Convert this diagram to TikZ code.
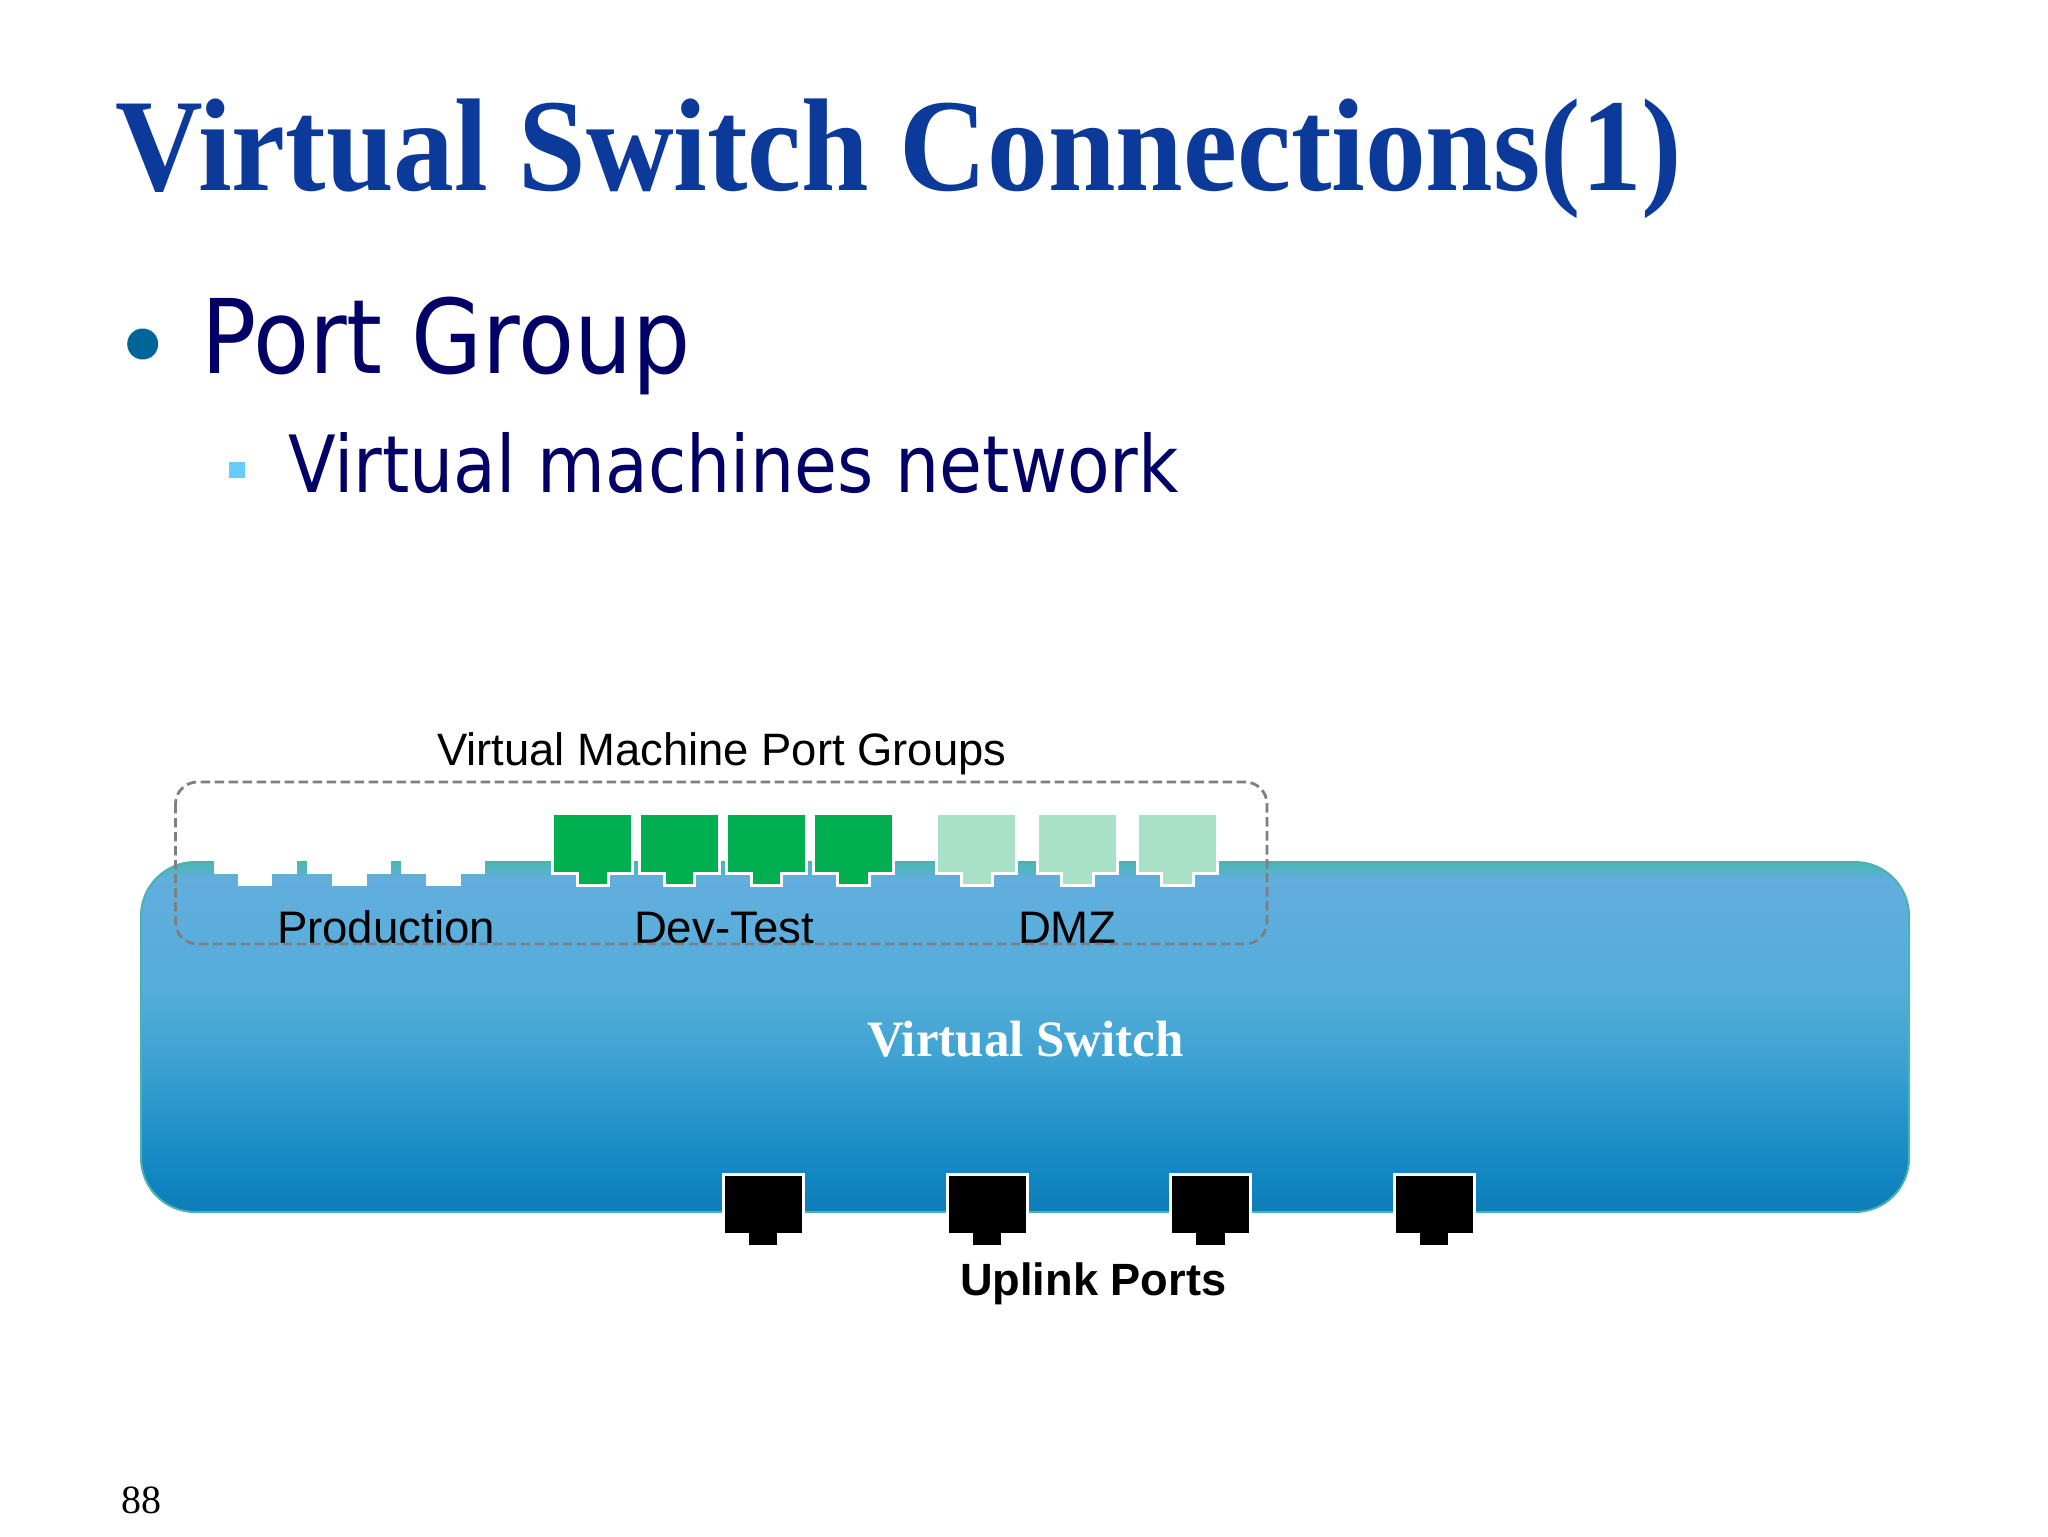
\documentclass[tikz,border=0pt]{standalone}
\usepackage{fontspec}
\setmainfont{Liberation Serif}
\newfontfamily\arialf{Liberation Sans}
\newfontfamily\tahomaf{DejaVu Sans}
\definecolor{titleblue}{HTML}{0B3A9A}
\definecolor{bodynavy}{HTML}{000066}
\definecolor{bulletblue}{HTML}{006699}
\definecolor{squareblue}{HTML}{66CCFF}
\definecolor{portgreen}{HTML}{00B050}
\definecolor{portmint}{HTML}{A9E0C8}
\definecolor{dashgray}{HTML}{7F7F7F}
\definecolor{edgeteal}{HTML}{4AB3B0}
\definecolor{swa}{HTML}{0D7DB6}
\definecolor{swb}{HTML}{1086C0}
\definecolor{swc}{HTML}{2090C8}
\definecolor{swd}{HTML}{3DA2D2}
\definecolor{swe}{HTML}{55ADD9}
\definecolor{swf}{HTML}{62AEDE}
\definecolor{swg}{HTML}{5FAFD8}
\definecolor{swh}{HTML}{50B5C0}
\definecolor{swi}{HTML}{4FB5B5}
\pgfdeclareverticalshading{switchshade}{100bp}{
 color(0bp)=(swa);
 color(25bp)=(swa);
 color(29.6bp)=(swb);
 color(36.7bp)=(swc);
 color(46.7bp)=(swd);
 color(56.7bp)=(swe);
 color(72.4bp)=(swf);
 color(73bp)=(swg);
 color(74.1bp)=(swh);
 color(75bp)=(swi);
 color(100bp)=(swi)}
\newcommand\fsz[1]{\fontsize{#1}{#1}\selectfont}
% style, left, right, tab-left, tab-right, top, bottom, tab-bottom
\newcommand\portpath[8]{\draw[#1] (#2-1.5,#6-1.5) -- (#3+1.5,#6-1.5) -- (#3+1.5,#7) -- (#5+1.5,#7) -- (#5+1.5,#8) -- (#4-1.5,#8) -- (#4-1.5,#7) -- (#2-1.5,#7) -- cycle;}
\tikzset{
 lab/.style={anchor=base west,inner sep=0pt,outer sep=0pt,text=black},
 vmport/.style={draw=white,line width=1.5pt,line join=miter},
 blank/.style={vmport,fill=white},
 greenport/.style={vmport,fill=portgreen},
 mintport/.style={vmport,fill=portmint},
 upport/.style={draw=white,line width=1.5pt,fill=black},
}
\begin{document}
\begin{tikzpicture}[x=0.5pt,y=-0.5pt]
\useasboundingbox[fill=white] (0,0) rectangle (2048,1536);
% switch body
\path[shading=switchshade,draw=edgeteal,line width=1pt,rounded corners=27pt] (141,862) rectangle (1909,1212);
% production (blank white) ports
\portpath{blank}{216.5}{293.5}{241}{269}{816}{872.5}{884.5}
\portpath{blank}{310}{388}{335}{364}{816}{872.5}{884.5}
\portpath{blank}{404}{482}{429}{458}{816}{872.5}{884.5}
% dev-test
\portpath{greenport}{554.2}{630.5}{579}{606.5}{815}{873}{885}
\portpath{greenport}{641}{717.5}{666}{693}{815}{873}{885}
\portpath{greenport}{728}{804.5}{753}{780}{815}{873}{885}
\portpath{greenport}{815}{892}{839}{868}{815}{873}{885}
% dmz
\portpath{mintport}{938}{1015}{962.6}{991}{815}{873}{885}
\portpath{mintport}{1039}{1116}{1063}{1091.6}{815}{873}{885}
\portpath{mintport}{1139}{1216}{1163}{1192}{815}{873}{885}
% uplink
\portpath{upport}{725}{802}{749}{777.4}{1176}{1234.5}{1246.5}
\portpath{upport}{948.5}{1025.5}{972.5}{1001}{1176}{1234.5}{1246.5}
\portpath{upport}{1171.5}{1248.5}{1196}{1224.5}{1176}{1234.5}{1246.5}
\portpath{upport}{1395.5}{1472.5}{1419.5}{1448}{1176}{1234.5}{1246.5}
% text
\node[lab,text=titleblue] (title) at (115,190) {\fsz{66}\bfseries\scalebox{0.92}[1]{Virtual Switch Connections(1)}};
\node[circle,fill=bulletblue,inner sep=0pt,minimum size=15.5pt] (bullet) at (142.7,344) {};
\node[lab,text=bodynavy] (portgroup) at (201,373) {\tahomaf\fsz{51.5}\scalebox{0.89}[1]{Port Group}};
\node[fill=squareblue,inner sep=0pt,minimum size=8pt] (square) at (237,469.5) {};
\node[lab,text=bodynavy] (vmnet) at (288,492) {\tahomaf\fsz{39.5}\scalebox{0.882}[1]{Virtual machines network}};
\node[lab] (vmpg) at (437,765) {\arialf\fsz{22.7}Virtual Machine Port Groups};
\node[lab] (prod) at (277,943) {\arialf\fsz{22.8}Production};
\node[lab] (dev) at (634,943) {\arialf\fsz{22.8}Dev-Test};
\node[lab] (dmz) at (1018,943) {\arialf\fsz{22.8}DMZ};
\node[lab,text=white] (vsw) at (867,1056) {\fsz{25.5}\bfseries Virtual Switch};
\node[lab] (uplink) at (960,1295) {\arialf\fsz{22.6}\bfseries Uplink Ports};
\node[lab] (pagenum) at (121.5,1513) {\fsz{20}88};
% dashed group
\draw[draw=dashgray,line width=1.4pt,dash pattern=on 4.7pt off 2.3pt,rounded corners=11pt] (175.5,782) rectangle (1267,944);
\end{tikzpicture}
\end{document}
